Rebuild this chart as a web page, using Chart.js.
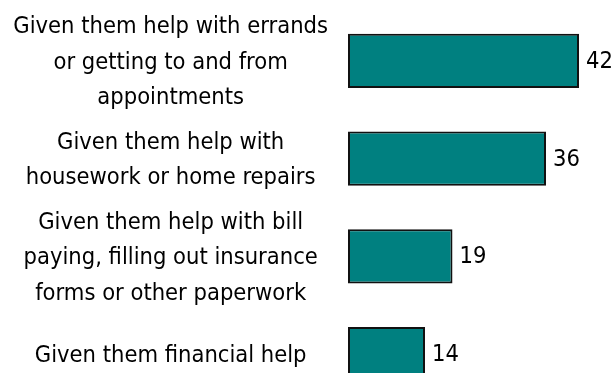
<!DOCTYPE html>
<html>
<head>
<meta charset="utf-8">
<script src="https://cdn.jsdelivr.net/npm/chart.js@4"></script>
<style>
  html, body { margin: 0; padding: 0; background: #fff; overflow: hidden; }
  canvas { display: block; }
</style>
</head>
<body>
<canvas id="helpChart" width="613" height="403"></canvas>
<script>
// Kategoriler ve değerler
const categories = [
    ['Given them help with errands', 'or getting to and from', 'appointments'],
    ['Given them help with', 'housework or home repairs'],
    ['Given them help with bill', 'paying, filling out insurance', 'forms or other paperwork'],
    ['Given them financial help']
];
const values = [42, 36, 19, 14];

const fontFamily = '"DejaVu Sans Condensed", "Liberation Sans", sans-serif';
const fontSize = 23.5;

// Çubukların sağına değer yaz
const valueLabels = {
    id: 'valueLabels',
    afterDatasetsDraw(chart) {
        const ctx = chart.ctx;
        const meta = chart.getDatasetMeta(0);
        ctx.save();
        ctx.font = fontSize + 'px ' + fontFamily;
        ctx.fillStyle = '#000';
        ctx.textAlign = 'left';
        ctx.textBaseline = 'middle';
        meta.data.forEach(function(bar, i) {
            ctx.fillText(values[i], bar.x + 7, bar.y + 1);
        });
        ctx.restore();
    }
};

new Chart(document.getElementById('helpChart'), {
    type: 'bar',
    data: {
        labels: categories,
        datasets: [{
            data: values,
            backgroundColor: '#008080',
            borderColor: '#111',
            borderWidth: 2,
            borderSkipped: false,
            barPercentage: 0.555,
            categoryPercentage: 1
        }]
    },
    options: {
        indexAxis: 'y',
        responsive: false,
        animation: false,
        layout: { padding: { top: 12, right: 1, bottom: 0, left: 0 } },
        plugins: {
            legend: { display: false },
            tooltip: { enabled: false }
        },
        scales: {
            x: {
                display: false,
                min: 0,
                max: 48
            },
            y: {
                grid: { display: false, drawTicks: false },
                border: { display: false },
                afterFit: function(scale) {
                    scale.width = 348;
                    scale.paddingTop = 0;
                    scale.paddingBottom = 0;
                },
                ticks: {
                    autoSkip: false,
                    crossAlign: 'center',
                    padding: 20,
                    labelOffset: 2,
                    color: '#000',
                    font: { family: fontFamily, size: fontSize, lineHeight: 1.51 }
                }
            }
        }
    },
    plugins: [valueLabels]
});
</script>
</body>
</html>
